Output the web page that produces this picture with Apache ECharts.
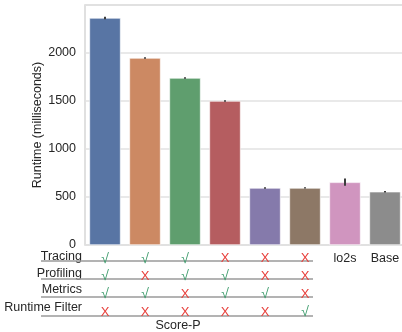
<!DOCTYPE html>
<html><head><meta charset="utf-8">
<script src="https://cdn.jsdelivr.net/npm/echarts@6/dist/echarts.min.js"></script>
<style>html,body{margin:0;padding:0;background:#fff}#c{width:402px;height:332px}</style>
</head><body><div id="c"></div>
<script>
const categories = ['Score-P A','Score-P B','Score-P C','Score-P D','Score-P E','Score-P F','lo2s','Base'];
const xLabels = ['','','','','','','lo2s','Base'];
const runtime = [2365, 1948, 1740, 1500, 594, 594, 653, 555];
const errLow  = [2352, 1940, 1733, 1493, 587, 588, 616, 548];
const errHigh = [2378, 1957, 1748, 1508, 602, 601, 692, 563];
const tracing   = [1,1,1,0,0,0];
const profiling = [1,0,1,1,0,0];
const metrics   = [1,1,0,1,1,0];
const filter    = [0,0,0,0,0,1];
const rowNames = ['Tracing','Profiling','Metrics','Runtime Filter'];
const yTicks = [0, 500, 1000, 1500, 2000];
const colors = ['#5875a4','#cc8963','#5f9e6e','#b55d60','#857aab','#8d7866','#d095bf','#8c8c8c'];

const FONT = '"Liberation Sans", Arial, sans-serif';
const chart = echarts.init(document.getElementById('c'));
const mark = v => v ? '{g|√}' : '{r|X}';
const rowBase = [263, 280, 296.5, 314];
const lineY = [261, 279, 297, 316];
const graphic = [];
rowNames.forEach((n, i) => {
  graphic.push({type:'text', x: 82, y: rowBase[i], style:{text:n, font:'12.5px '+FONT, fill:'#262626', textAlign:'right', textVerticalAlign:'bottom'}});
  graphic.push({type:'line', shape:{x1:41, y1:lineY[i], x2:313, y2:lineY[i]}, style:{stroke:'#9a9a9a', lineWidth:1.3}});
});
graphic.push({type:'text', x:178, y:326, style:{text:'Score-P', font:'12.5px '+FONT, fill:'#262626', textAlign:'center', textVerticalAlign:'middle'}});

chart.setOption({
  animation: false,
  grid: {left: 85, top: 5, width: 320, bottom: 87, show: true, borderColor: '#d6d6d6', borderWidth: 1.5, containLabel: false, outerBoundsMode: 'none'},
  xAxis: {
    type: 'category', data: categories,
    axisLine: {show: false}, axisTick: {show: false},
    axisLabel: {
      interval: 0, margin: 5,
      formatter: (v, i) => i < 6 ? [mark(tracing[i]), mark(profiling[i]), mark(metrics[i]), mark(filter[i])].join('\n') : '{t|' + xLabels[i] + '}',
      rich: {
        g: {color: '#3f9c6d', fontSize: 14, fontFamily: FONT, lineHeight: 17.7},
        r: {color: '#e8403c', fontSize: 13, fontFamily: FONT, lineHeight: 17.7},
        t: {color: '#262626', fontSize: 12.5, fontFamily: FONT, lineHeight: 17.7}
      }
    }
  },
  yAxis: {
    type: 'value', min: 0, max: 2500, interval: 500,
    name: 'Runtime (milliseconds)', nameLocation: 'middle', nameGap: 41, nameMoveOverlap: false,
    nameTextStyle: {color: '#262626', fontSize: 12.5, fontFamily: FONT},
    axisLine: {show: false}, axisTick: {show: false},
    axisLabel: {margin: 9, color: '#262626', fontSize: 12.5, fontFamily: FONT,
      formatter: v => yTicks.indexOf(v) >= 0 ? String(v) : ''},
    splitLine: {lineStyle: {color: '#e2e2e2', width: 1.5}}
  },
  series: [
    {type: 'bar', barWidth: '78%', data: runtime.map((v, i) => ({value: v, itemStyle: {color: colors[i]}})),
     itemStyle: {borderColor: '#ffffff', borderWidth: 0.6}},
    {type: 'custom', z: 5, data: errLow.map((l, i) => [i, l, errHigh[i]]),
     renderItem: (params, api) => {
       const a = api.coord([api.value(0), api.value(1)]);
       const b = api.coord([api.value(0), api.value(2)]);
       return {type: 'line', shape: {x1: a[0], y1: a[1], x2: b[0], y2: b[1]}, style: {stroke: '#3d3d3d', lineWidth: 2}};
     }}
  ],
  graphic: graphic
});
</script></body></html>
